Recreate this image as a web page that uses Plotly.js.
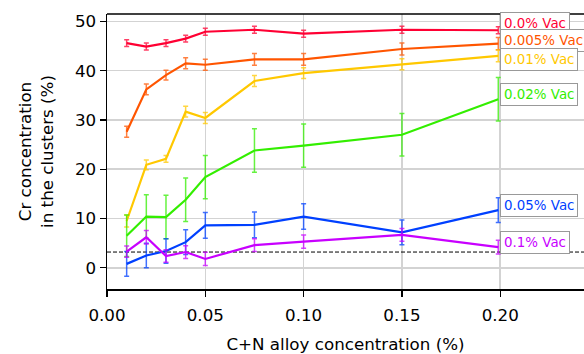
<!DOCTYPE html>
<html><head><meta charset="utf-8">
<script src="https://cdn.plot.ly/plotly-3.0.1.min.js"></script>
<style>body{margin:0;background:#fff}#c{width:584px;height:354px}</style>
</head><body><div id="c"></div>
<script>
const xs = [0.01, 0.02, 0.03, 0.04, 0.05, 0.075, 0.10, 0.15, 0.199];
const seriesNames = ["0.0% Vac", "0.005% Vac", "0.01% Vac", "0.02% Vac", "0.05% Vac", "0.1% Vac"];
const vac00 = [45.6, 44.9, 45.6, 46.5, 47.9, 48.3, 47.5, 48.3, 48.2];
const vac00err = [0.7, 0.7, 0.7, 0.7, 0.7, 0.7, 0.7, 0.7, 0.7];
const vac005 = [27.6, 36.2, 39.1, 41.5, 41.2, 42.3, 42.3, 44.4, 45.5];
const vac005err = [1.1, 1.1, 1.0, 1.1, 1.1, 1.2, 1.2, 1.2, 1.25];
const vac01 = [9.5, 20.9, 22.1, 31.7, 30.4, 37.9, 39.5, 41.3, 43.0];
const vac01err = [1.2, 1.0, 0.7, 1.1, 1.1, 1.1, 1.1, 1.1, 1.2];
const vac02 = [6.5, 10.4, 10.3, 13.8, 18.4, 23.8, 24.8, 27.0, 34.2];
const vac02err = [4.2, 4.4, 4.4, 4.4, 4.4, 4.4, 4.4, 4.3, 4.4];
const vac05 = [0.8, 2.5, 3.4, 5.2, 8.6, 8.7, 10.4, 7.2, 11.7];
const vac05err = [2.5, 2.5, 2.5, 2.5, 2.6, 2.6, 2.6, 2.5, 2.5];
const vac1 = [3.3, 6.2, 2.4, 3.2, 1.8, 4.6, 5.3, 6.7, 4.2];
const vac1err = [1.15, 1.35, 1.25, 1.3, 1.35, 1.3, 1.35, 1.3, 1.4];
const baseline = 3.2;
const labelY = [49.6, 46.1, 42.2, 35.2, 12.6, 5.2];

const colors = ["#ff0033", "#ff5500", "#ffc800", "#33ee00", "#0040ff", "#c800ff"];
const errColors = ["rgba(255,0,51,0.75)", "rgba(255,85,0,0.75)", "rgba(255,200,0,0.75)", "rgba(51,238,0,0.75)", "rgba(0,64,255,0.75)", "rgba(200,0,255,0.75)"];
const ys = [vac00, vac005, vac01, vac02, vac05, vac1];
const es = [vac00err, vac005err, vac01err, vac02err, vac05err, vac1err];

const traces = [{
  x: [0, 0.2426], y: [baseline, baseline], mode: 'lines',
  line: {color: 'black', width: 1, dash: '4px,2px'}, showlegend: false, hoverinfo: 'skip'
}];
ys.forEach((y, i) => {
  traces.push({
    x: xs, y: y, mode: 'lines', name: seriesNames[i],
    line: {color: colors[i], width: 2.2},
    error_y: {type: 'data', array: es[i], visible: true, color: errColors[i], thickness: 1.5, width: 2.5},
    showlegend: false
  });
});

const annotations = seriesNames.map((n, i) => ({
  xref: 'x', yref: 'y', x: 0.199, y: labelY[i], xanchor: 'left', yanchor: 'middle',
  xshift: 2, text: n, showarrow: false,
  font: {family: 'DejaVu Sans', size: 13.4, color: colors[i]},
  bgcolor: 'white', bordercolor: '#999', borderwidth: 1, borderpad: 3
}));

const layout = {
  width: 584, height: 354,
  margin: {l: 107, r: 0, t: 14, b: 65},
  paper_bgcolor: 'white', plot_bgcolor: 'white',
  font: {family: 'DejaVu Sans', color: 'black'},
  xaxis: {
    range: [0, 0.2426], tickvals: [0, 0.05, 0.10, 0.15, 0.20],
    ticktext: ['0.00', '0.05', '0.10', '0.15', '0.20'],
    showgrid: true, gridcolor: '#d3d3d3', gridwidth: 1.5, zeroline: false,
    showline: true, linecolor: 'black', linewidth: 1.5, mirror: false,
    ticks: 'outside', ticklen: 6, tickwidth: 1.2, tickcolor: 'black',
    ticklabelstandoff: 4,
    tickfont: {size: 16.7},
    title: {text: 'C+N alloy concentration (%)', font: {size: 16.7}, standoff: 15}
  },
  yaxis: {
    range: [-4.3, 51.5], tickvals: [0, 10, 20, 30, 40, 50],
    showgrid: true, gridcolor: '#d3d3d3', gridwidth: 1.5, zeroline: false,
    showline: true, linecolor: 'black', linewidth: 1.5,
    ticks: 'outside', ticklen: 6, tickwidth: 1.2, tickcolor: 'black',
    tickfont: {size: 16.7},
    title: {text: 'Cr concentration<br>in the clusters (%)', font: {size: 16.7}, standoff: 17}
  },
  shapes: [{type: 'line', xref: 'paper', yref: 'paper', x0: 0, x1: 1, y0: 1, y1: 1, line: {color: 'black', width: 1.5}}],
  annotations: annotations
};
Plotly.newPlot('c', traces, layout, {displayModeBar: false, staticPlot: true});
</script></body></html>
